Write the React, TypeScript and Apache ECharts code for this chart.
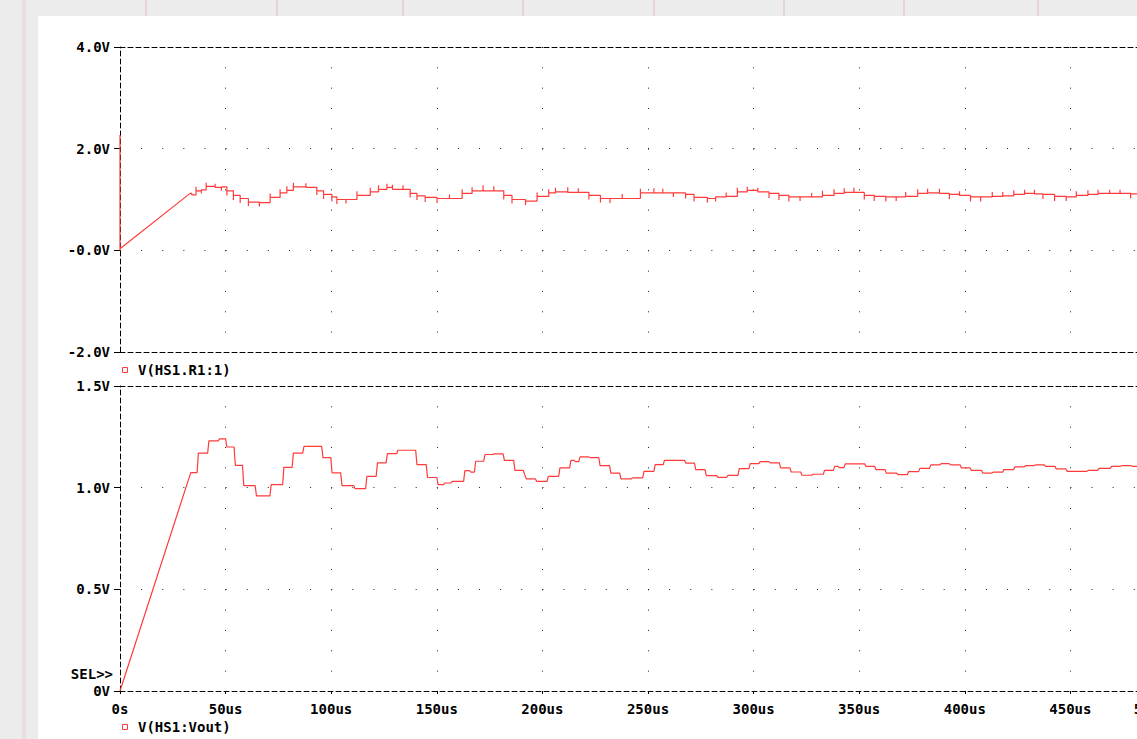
import React, { useEffect, useRef } from "react";
import * as echarts from "echarts";

// ---------- data ----------
const xTickValues = [0, 50, 100, 150, 200, 250, 300, 350, 400, 450, 500];
const xTickLabels = ["0s", "50us", "100us", "150us", "200us", "250us", "300us", "350us", "400us", "450us", "500us"];

const topYTicks = [-2, 0, 2, 4];
const topYLabels = ["-2.0V", "-0.0V", "2.0V", "4.0V"];
const botYTicks = [0, 0.5, 1.0, 1.5];
const botYLabels = ["0V", "0.5V", "1.0V", "1.5V"];

const topSeriesName = "V(HS1.R1:1)";
const botSeriesName = "V(HS1:Vout)";

// initial spike at t = 0 and ramp of the top trace
const topStartSpike = [
  [0, 0],
  [0, 2.27],
  [0, 0.03],
];
const topRamp = [
  [0, 0.03],
  [33.2, 1.12],
];
// [time (us), new level (V), transient spike extreme (V) or null]
const topSteps: [number, number, number | null][] = [
  [34.0, 1.09, null], [36.0, 1.17, 1.25], [38.5, 1.19, 1.12], [40.8, 1.26, 1.33],
  [45.0, 1.24, 1.31], [48.0, 1.25, 1.17], [50.6, 1.17, 1.08], [53.7, 1.08, 0.99],
  [56.9, 1.02, 0.93], [60.8, 0.95, 0.87], [66.0, 0.94, 0.86], [71.1, 1.04, 1.12],
  [75.8, 1.13, 1.2], [79.0, 1.18, 1.26], [82.1, 1.25, 1.33], [88.0, 1.24, 1.32],
  [93.2, 1.17, 1.09], [96.4, 1.1, 1.01], [100.3, 1.05, 0.96], [102.7, 1.0, 0.91],
  [107.0, 1.0, 0.92], [112.2, 1.08, 1.16], [118.5, 1.15, 1.23], [122.4, 1.2, 1.28],
  [126.4, 1.24, 1.31], [129.0, 1.2, 1.29], [134.0, 1.2, 1.28], [137.4, 1.12, 1.04],
  [140.6, 1.07, 0.99], [144.5, 1.04, 0.95], [150.1, 1.02, 0.93], [156.0, 1.02, 1.1],
  [162.0, 1.12, 1.2], [166.7, 1.17, 1.24], [171.9, 1.17, 1.28], [177.0, 1.17, 1.26],
  [181.7, 1.08, 1.0], [185.6, 1.0, 0.92], [192.0, 0.97, 0.89], [197.5, 1.06, 1.14],
  [203.0, 1.13, 1.2], [206.2, 1.15, 1.23], [212.0, 1.14, 1.24], [217.0, 1.14, 1.22],
  [222.0, 1.08, 1.0], [227.5, 1.02, 0.94], [232.0, 1.02, 0.93], [237.8, 1.02, 1.11],
  [246.4, 1.13, 1.21], [252.8, 1.13, 1.22], [257.0, 1.13, 1.21], [262.0, 1.13, 1.05],
  [267.8, 1.1, 1.02], [271.8, 1.04, 0.96], [278.1, 1.02, 0.94], [282.0, 1.05, 0.96],
  [287.0, 1.06, 1.14], [292.3, 1.15, 1.23], [297.0, 1.18, 1.25], [302.0, 1.15, 1.23],
  [307.3, 1.12, 1.03], [312.0, 1.08, 0.99], [316.7, 1.05, 0.96], [322.0, 1.05, 0.97],
  [327.5, 1.05, 1.13], [332.6, 1.08, 1.17], [338.1, 1.12, 1.2], [342.9, 1.14, 1.22],
  [347.5, 1.14, 1.23], [352.4, 1.08, 1.0], [357.1, 1.06, 0.97], [362.6, 1.05, 0.96],
  [367.5, 1.05, 0.97], [372.0, 1.06, 1.15], [377.7, 1.12, 1.2], [382.4, 1.13, 1.21],
  [388.0, 1.12, 1.21], [392.7, 1.1, 1.01], [397.5, 1.08, 1.16], [402.7, 1.05, 0.96],
  [407.5, 1.05, 0.96], [413.0, 1.06, 1.15], [418.0, 1.07, 1.15], [423.2, 1.1, 1.18],
  [428.3, 1.12, 1.19], [433.0, 1.11, 1.19], [437.0, 1.1, 1.01], [442.5, 1.06, 0.97],
  [448.0, 1.05, 0.97], [452.8, 1.08, 1.16], [458.3, 1.1, 1.18], [463.1, 1.12, 1.19],
  [468.6, 1.12, 1.19], [473.5, 1.12, 1.19], [478.5, 1.11, 1.02], [483.0, 1.1, 1.18],
];
const topEndTime = 500;

// bottom trace: linear ramp, then staircase levels [time (us), new level (V)]
const botRamp = [
  [0, 0],
  [33.5, 1.074],
];
const botSteps: [number, number][] = [
  [36.5, 1.17], [41.5, 1.23], [46.5, 1.24], [50.0, 1.2], [54.0, 1.11], [58.0, 1.01],
  [64.0, 0.96], [71.0, 1.015], [77.0, 1.1], [81.5, 1.17], [86.5, 1.203], [95.5, 1.148],
  [99.8, 1.073], [104.5, 1.01], [110.7, 0.995], [116.3, 1.056], [121.3, 1.122],
  [126.0, 1.167], [131.0, 1.184], [140.0, 1.113], [145.0, 1.05], [150.0, 1.015],
  [153.2, 1.023], [156.7, 1.031], [162.7, 1.084], [165.5, 1.076], [167.8, 1.13],
  [172.2, 1.163], [176.5, 1.166], [181.4, 1.134], [186.4, 1.085], [191.0, 1.064],
  [191.8, 1.043], [196.7, 1.031], [202.2, 1.056], [207.7, 1.097], [212.9, 1.134],
  [215.0, 1.128], [217.2, 1.151], [222.0, 1.148], [226.7, 1.108], [231.8, 1.072],
  [236.6, 1.043], [242.0, 1.048], [247.5, 1.08], [252.8, 1.113], [257.2, 1.134],
  [267.3, 1.121], [272.0, 1.089], [277.0, 1.059], [282.5, 1.051], [287.2, 1.06],
  [292.6, 1.094], [297.8, 1.118], [302.5, 1.128], [307.3, 1.122], [312.2, 1.097],
  [317.2, 1.077], [322.3, 1.061], [327.5, 1.066], [333.0, 1.085], [337.8, 1.105],
  [340.0, 1.099], [342.8, 1.117], [352.6, 1.105], [357.3, 1.089], [362.2, 1.072],
  [367.8, 1.064], [372.8, 1.079], [378.1, 1.095], [383.3, 1.112], [388.2, 1.118],
  [392.6, 1.112], [397.8, 1.097], [402.5, 1.085], [407.9, 1.072], [412.8, 1.076],
  [417.9, 1.089], [423.1, 1.102], [428.1, 1.108], [432.8, 1.112], [437.6, 1.105],
  [442.7, 1.092], [447.9, 1.08], [457.8, 1.085], [462.9, 1.095], [468.9, 1.105],
  [473.6, 1.108], [478.7, 1.105],
];
const botEndTime = 500;

// ---------- build series data ----------
function buildTop(): number[][] {
  const out: number[][] = [...topStartSpike, ...topRamp.slice(1)];
  let prev = topRamp[topRamp.length - 1][1];
  for (const [t, v, s] of topSteps) {
    out.push([t, prev]);
    if (s !== null) out.push([t, s]);
    out.push([t, v]);
    prev = v;
  }
  out.push([topEndTime, prev]);
  return out;
}
function buildBot(): number[][] {
  const out: number[][] = [...botRamp];
  let prev = botRamp[botRamp.length - 1][1];
  for (const [t, v] of botSteps) {
    out.push([t, prev]);
    out.push([t + 0.6, v]);
    prev = v;
  }
  out.push([botEndTime, prev]);
  return out;
}

const RED = "#ff3a3a";
const FONT = '"DejaVu Sans Mono", monospace';
const FS = 14;
const DASH = [5, 3];

function labelFrom(ticks: number[], labels: string[]) {
  return (v: number) => {
    const i = ticks.findIndex((t) => Math.abs(t - v) < 1e-6);
    return i >= 0 ? labels[i] : "";
  };
}

export default function App() {
  const ref = useRef<HTMLDivElement>(null);
  useEffect(() => {
    if (!ref.current) return;
    const chart = echarts.init(ref.current, undefined, { renderer: "svg" });
    const labelStyle = {
      color: "#000",
      fontFamily: FONT,
      fontWeight: "bold" as const,
      fontSize: FS,
    };
    const hDots = { color: "#222", width: 1, type: [1, 20.12] };
    const vDots = { color: "#222", width: 1, type: [1, 19.33] };
    const dashed = { color: "#000", width: 1, type: DASH };

    const option: any = {
      animation: false,
      backgroundColor: "transparent",
      grid: [
        { left: 120, top: 47, width: 1056, height: 305 },
        { left: 120, top: 386, width: 1056, height: 305 },
      ],
      xAxis: [
        {
          gridIndex: 0, type: "value", min: 0, max: 500, interval: 50, position: "bottom",
          axisLine: { show: true, onZero: false, lineStyle: dashed },
          axisTick: { show: false }, axisLabel: { show: false },
          splitLine: { show: true, showMinLine: false, showMaxLine: false, lineStyle: vDots },
        },
        {
          gridIndex: 1, type: "value", min: 0, max: 500, interval: 50, position: "bottom",
          axisLine: { show: true, onZero: false, lineStyle: dashed },
          axisTick: { show: true, length: 3, lineStyle: { color: "#000" } },
          axisLabel: {
            ...labelStyle, margin: 11, alignMaxLabel: "right",
            formatter: labelFrom(xTickValues, xTickLabels),
          },
          splitLine: { show: true, showMinLine: false, showMaxLine: false, lineStyle: vDots },
          name: "Time", nameLocation: "middle", nameGap: 50,
          nameTextStyle: { ...labelStyle },
        },
        {
          gridIndex: 0, type: "value", min: 0, max: 500, interval: 50, position: "top",
          axisLine: { show: true, onZero: false, lineStyle: dashed },
          axisTick: { show: false }, axisLabel: { show: false }, splitLine: { show: false },
        },
        {
          gridIndex: 1, type: "value", min: 0, max: 500, interval: 50, position: "top",
          axisLine: { show: true, onZero: false, lineStyle: dashed },
          axisTick: { show: false }, axisLabel: { show: false }, splitLine: { show: false },
        },
      ],
      yAxis: [
        {
          gridIndex: 0, type: "value", min: -2, max: 4, interval: 2,
          axisLine: { show: true, onZero: false, lineStyle: dashed },
          axisTick: { show: true, length: 6, lineStyle: { color: "#000" } },
          axisLabel: { ...labelStyle, margin: 10, formatter: labelFrom(topYTicks, topYLabels) },
          splitLine: { show: true, showMinLine: false, showMaxLine: false, lineStyle: hDots },
        },
        {
          gridIndex: 1, type: "value", min: 0, max: 1.5, interval: 0.5,
          axisLine: { show: true, onZero: false, lineStyle: dashed },
          axisTick: { show: true, length: 6, lineStyle: { color: "#000" } },
          axisLabel: { ...labelStyle, margin: 10, formatter: labelFrom(botYTicks, botYLabels) },
          splitLine: { show: true, showMinLine: false, showMaxLine: false, lineStyle: hDots },
        },
      ],
      series: [
        {
          name: topSeriesName, type: "line", xAxisIndex: 0, yAxisIndex: 0,
          data: buildTop(), showSymbol: false, symbol: "none",
          lineStyle: { color: RED, width: 1.2 }, itemStyle: { color: RED }, z: 3,
        },
        {
          name: botSeriesName, type: "line", xAxisIndex: 1, yAxisIndex: 1,
          data: buildBot(), showSymbol: false, symbol: "none",
          lineStyle: { color: RED, width: 1.2 }, itemStyle: { color: RED }, z: 3,
        },
      ],
      graphic: [
        {
          type: "rect", shape: { x: 122.5, y: 367.5, width: 5, height: 5 },
          style: { fill: "#fff", stroke: RED, lineWidth: 1 },
        },
        {
          type: "text", x: 138, y: 370,
          style: { text: topSeriesName, fill: "#000", font: `bold ${FS}px ${FONT}`, verticalAlign: "middle" },
        },
        {
          type: "rect", shape: { x: 122.5, y: 724.5, width: 5, height: 5 },
          style: { fill: "#fff", stroke: RED, lineWidth: 1 },
        },
        {
          type: "text", x: 138, y: 727,
          style: { text: botSeriesName, fill: "#000", font: `bold ${FS}px ${FONT}`, verticalAlign: "middle" },
        },
        {
          type: "text", x: 113, y: 674,
          style: { text: "SEL>>", fill: "#000", font: `bold ${FS}px ${FONT}`, align: "right", verticalAlign: "middle" },
        },
      ],
    };
    chart.setOption(option);
    return () => chart.dispose();
  }, []);

  const pinkTop = [145, 276, 402, 522, 653, 783, 903, 1037];
  return (
    <div
      style={{
        position: "fixed", left: 0, top: 0, width: 1137, height: 739,
        overflow: "hidden", background: "#ececec",
      }}
    >
      {pinkTop.map((x) => (
        <div
          key={x}
          style={{
            position: "absolute", left: x, top: 0, width: 2, height: 16,
            background: "rgba(228,196,204,0.6)",
          }}
        />
      ))}
      <div
        style={{
          position: "absolute", left: 22, top: 0, width: 4, height: 739,
          background: "rgba(232,205,212,0.45)",
        }}
      />
      <div
        style={{
          position: "absolute", left: 38, top: 16, width: 1137 - 38, height: 739 - 16,
          background: "#ffffff",
        }}
      />
      <div ref={ref} style={{ position: "absolute", left: 0, top: 0, width: 1250, height: 770 }} />
    </div>
  );
}
